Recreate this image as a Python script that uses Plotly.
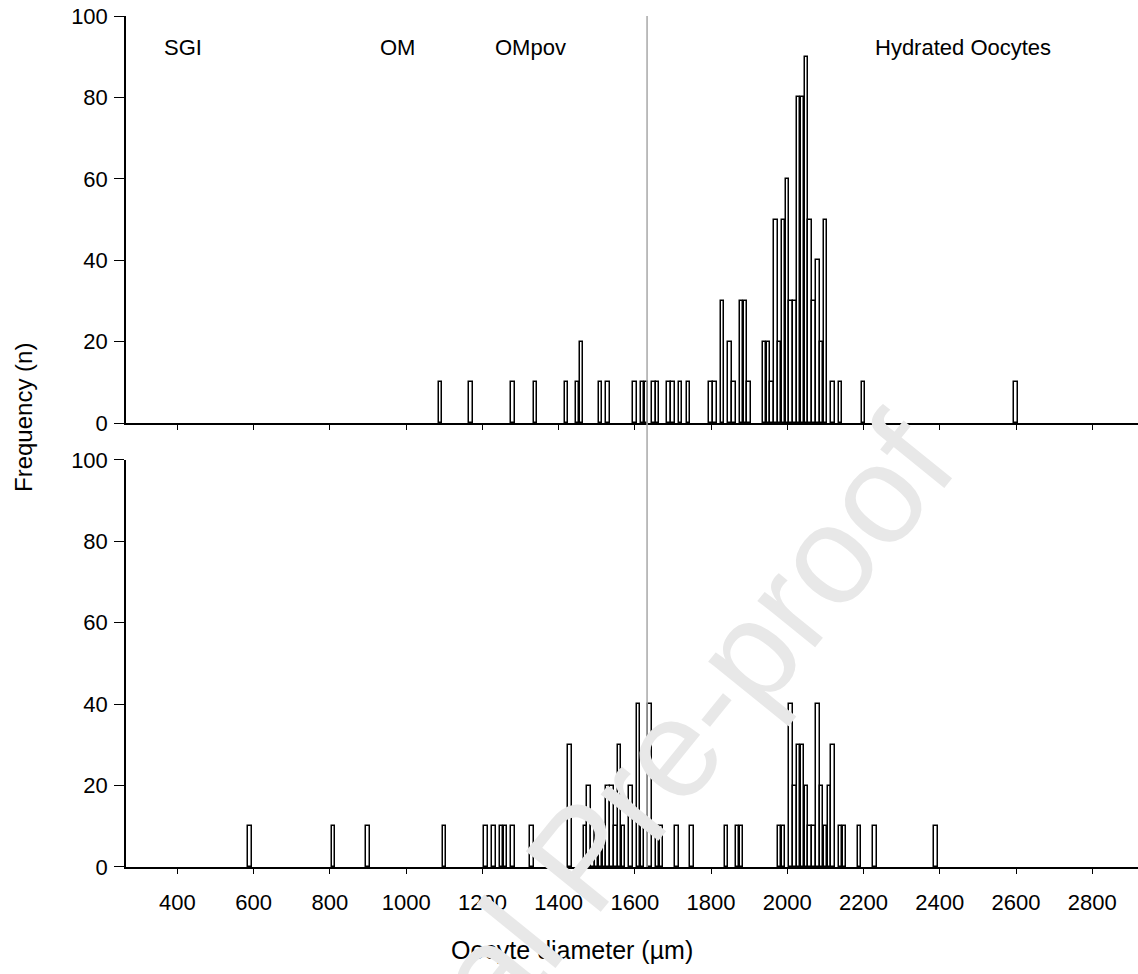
import plotly.graph_objects as go

# ---- data (oocyte diameter bins in µm, frequency n) ----
top_diam = [1090, 1170, 1280, 1340, 1420, 1450, 1460, 1510, 1530, 1600,
            1620, 1630, 1650, 1660, 1690, 1700, 1720, 1740, 1800, 1810,
            1830, 1850, 1860, 1880, 1890, 1900, 1940, 1950, 1960, 1970,
            1980, 1990, 2000, 2010, 2020, 2030, 2040, 2050, 2060, 2070,
            2080, 2090, 2100, 2120, 2140, 2200, 2600]
top_freq = [10, 10, 10, 10, 10, 10, 20, 10, 10, 10,
            10, 10, 10, 10, 10, 10, 10, 10, 10, 10,
            30, 20, 10, 30, 30, 10, 20, 20, 10, 50,
            20, 50, 60, 30, 30, 80, 80, 90, 50, 30,
            40, 20, 50, 10, 10, 10, 10]

bot_diam = [590, 810, 900, 1100, 1210, 1230, 1250, 1260, 1280, 1330,
            1430, 1470, 1480, 1490, 1500, 1510, 1520, 1530, 1540, 1550,
            1560, 1570, 1590, 1610, 1620, 1640, 1660, 1670, 1710, 1750,
            1840, 1870, 1880, 1980, 1990, 2010, 2020, 2030, 2040, 2050,
            2060, 2070, 2080, 2090, 2100, 2110, 2120, 2140, 2150, 2190,
            2230, 2390]
bot_freq = [10, 10, 10, 10, 10, 10, 10, 10, 10, 10,
            30, 10, 20, 10, 10, 10, 10, 20, 20, 10,
            30, 10, 20, 40, 10, 40, 10, 10, 10, 10,
            10, 10, 10, 10, 10, 40, 20, 30, 30, 20,
            10, 10, 40, 20, 10, 20, 30, 10, 10, 10,
            10, 10]

x_ticks = [400, 600, 800, 1000, 1200, 1400, 1600, 1800, 2000, 2200, 2400, 2600, 2800]
y_ticks = [0, 20, 40, 60, 80, 100]

stage_labels = ["SGI", "OM", "OMpov", "Hydrated Oocytes"]
stage_x = [414, 977, 1325, 2462]
stage_y = 92.3
boundary = 1632

FONT = "Liberation Sans, Arial, sans-serif"

fig = go.Figure()
bar_style = dict(marker=dict(color="white", line=dict(color="black", width=1.5)),
                 width=9, showlegend=False, hoverinfo="x+y")
fig.add_trace(go.Bar(x=top_diam, y=top_freq, xaxis="x2", yaxis="y2", **bar_style))
fig.add_trace(go.Bar(x=bot_diam, y=bot_freq, xaxis="x", yaxis="y", **bar_style))

xcommon = dict(range=[265, 2920], tickvals=x_ticks, ticks="outside", ticklen=5,
               tickwidth=1, tickcolor="black", showline=True, linecolor="black",
               linewidth=1.5, showgrid=False, zeroline=False,
               tickfont=dict(family=FONT, size=22, color="black"))
ycommon = dict(range=[0, 100], tickvals=y_ticks, ticks="outside", ticklen=10,
               tickwidth=1, tickcolor="black", showline=True, linecolor="black",
               linewidth=1.5, showgrid=False, zeroline=False,
               tickfont=dict(family=FONT, size=22, color="black"),
               ticklabelstandoff=2, ticklabeloverflow="allow")

fig.update_layout(
    width=1138, height=974,
    margin=dict(l=126, r=0, t=16, b=107),
    paper_bgcolor="white", plot_bgcolor="white",
    bargap=0,
    xaxis=dict(domain=[0, 1], anchor="y", ticklabelstandoff=10, **xcommon),
    xaxis2=dict(domain=[0, 1], anchor="y2", matches="x", showticklabels=False, **xcommon),
    yaxis=dict(domain=[0, 0.4783], anchor="x", **ycommon),
    yaxis2=dict(domain=[0.5217, 1], anchor="x2", **ycommon),
    font=dict(family=FONT, color="black"),
)

# boundary line between developmental stages
fig.add_shape(type="line", xref="x", yref="paper", x0=boundary, x1=boundary,
              y0=0, y1=1, line=dict(color="#a8a8a8", width=1.5), layer="above")

for lab, xv in zip(stage_labels, stage_x):
    fig.add_annotation(x=xv, y=stage_y, xref="x2", yref="y2", text=lab,
                       showarrow=False, font=dict(family=FONT, size=22, color="black"),
                       xanchor="center", yanchor="middle")

fig.add_annotation(x=-0.1008, y=0.5288, xref="paper", yref="paper",
                   text="Frequency (n)", textangle=-90, showarrow=False,
                   font=dict(family=FONT, size=24, color="black"),
                   xanchor="center", yanchor="middle")
fig.add_annotation(x=0.4407, y=-0.0975, xref="paper", yref="paper",
                   text="Oocyte diameter (µm)", showarrow=False,
                   font=dict(family=FONT, size=25, color="black"),
                   xanchor="center", yanchor="middle")

# journal watermark
fig.add_annotation(x=0.452, y=0.012, xref="paper", yref="paper",
                   text="Journal Pre-proof", textangle=-51, showarrow=False,
                   font=dict(family=FONT, size=140, color="#e8e8e8"),
                   xanchor="center", yanchor="middle")

# remove the browser's default 8 px body margin so the figure sits at the page origin
fig.write_html("out.html",
               config={"displayModeBar": False},
               post_script="document.body.style.margin='0px';document.body.style.padding='0px';")
